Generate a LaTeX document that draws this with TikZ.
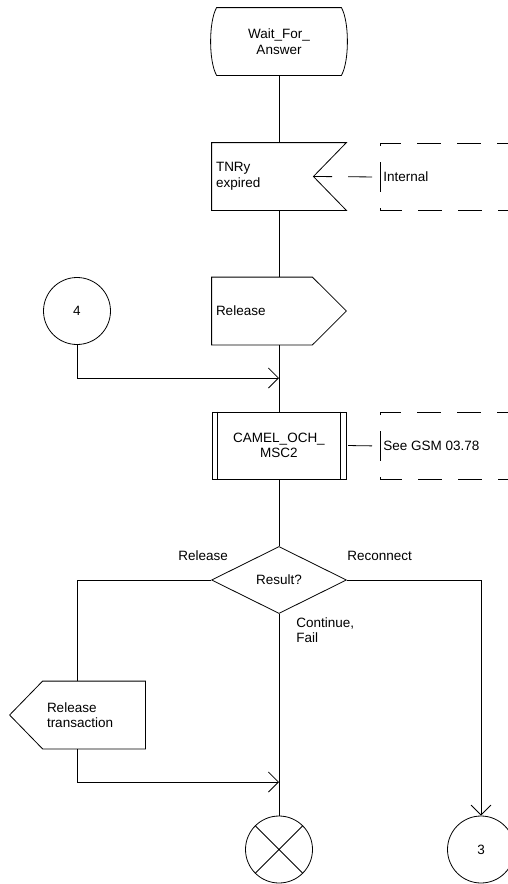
\documentclass[tikz,border=0pt]{standalone}
\usepackage{fontspec}
\setmainfont{Liberation Sans}
\usetikzlibrary{arrows.meta, shapes.geometric}

\begin{document}
\begin{tikzpicture}[x=1pt, y=-1pt, line width=0.8pt,
    every node/.style={font=\fontsize{13.5}{15.5}\selectfont},
    flow/.style={-{Straight Barb[length=10pt,width=20pt]}},
    sdlbox/.style={minimum width=134pt, minimum height=67pt, inner sep=4pt},
    signalbox/.style={sdlbox, text width=126pt, align=left},
    startstate/.style={sdlbox, align=center},
    procbox/.style={sdlbox, draw, rectangle, align=center},
    decision/.style={draw, diamond, aspect=2, minimum width=135pt, minimum height=67pt, inner sep=0pt},
    joint/.style={draw, circle, minimum size=67pt, inner sep=0pt},
    remark/.style={anchor=west, inner xsep=3pt},
    remarkline/.style={dash pattern=on 24pt off 16pt, dash phase=9pt},
    branch/.style={inner sep=0pt, align=left}]
					\useasboundingbox (0,0) rectangle (508,884);
					% states and signals
					\node[startstate] (wait) at (279,41.5) {Wait\_For\_\\Answer};
					\draw ([xshift=5pt]wait.north west) -- ([xshift=-5pt]wait.north east)
					      .. controls ([xshift=3pt,yshift=-14pt]wait.north east) and ([xshift=3pt,yshift=14pt]wait.south east) .. ([xshift=-5pt]wait.south east)
					      -- ([xshift=5pt]wait.south west)
					      .. controls ([xshift=-3pt,yshift=14pt]wait.south west) and ([xshift=-3pt,yshift=-14pt]wait.north west) .. cycle;
					\node[signalbox] (tnr) at (279,176.5) {TNRy\\expired};
					\draw (tnr.north west) -- (tnr.north east) -- ([xshift=-33pt]tnr.east) coordinate (tnrtip) -- (tnr.south east) -- (tnr.south west) -- cycle;
					\node[signalbox] (rel) at (279,311) {Release};
					\draw (rel.north west) -- ([xshift=-34pt]rel.north east) -- (rel.east) -- ([xshift=-34pt]rel.south east) -- (rel.south west) -- cycle;
					\node[procbox] (camel) at (279,445.5) {CAMEL\_OCH\_\\MSC2};
					\draw ([xshift=6pt]camel.north west) -- ([xshift=6pt]camel.south west)
					      ([xshift=-6pt]camel.north east) -- ([xshift=-6pt]camel.south east);
					\node[decision] (res) at (279,580) {Result?};
					\node[signalbox, minimum width=102pt, text width=94pt] (reltr) at (94,715) {Release\\transaction};
					\draw (reltr.south west) -- ([xshift=-33pt]reltr.west) -- (reltr.north west) -- (reltr.north east) -- (reltr.south east) -- cycle;
					% connectors
					\node[joint] (c4) at (77,311) {4};
					\node[joint] (stop) at (279,849.5) {};
					\draw (stop.north west) -- (stop.south east) (stop.north east) -- (stop.south west);
					\node[joint] (c3) at (481,849.5) {3};
					% comments
					\node[remark] (cmtint) at (380,177) {Internal};
					\draw[remarkline] (cmtint.west) |- ++(140,-34);
					\draw[remarkline] (cmtint.west) |- ++(140,33);
					\draw[remarkline, dash phase=32pt] (cmtint.west) -- (tnrtip);
					\node[remark] (cmtgsm) at (380,446) {See GSM 03.78};
					\draw[remarkline] (cmtgsm.west) |- ++(140,-34);
					\draw[remarkline] (cmtgsm.west) |- ++(140,33);
					\draw[remarkline, dash phase=32pt] (cmtgsm.west) -- (camel.east);
					% flow lines
					\draw (wait) -- (tnr);
					\draw (tnr) -- (rel);
					\draw (rel) -- (camel);
					\draw (camel) -- (res);
					\draw (res) -- (stop);
					\coordinate (j4) at (279,378);
					\coordinate (jtr) at (279,782);
					\draw[flow] (c4) |- (j4);
					\draw (res.west) -| ([xshift=-17pt]reltr.north);
					\draw[flow] ([xshift=-17pt]reltr.south) |- (jtr);
					\draw[flow] (res.east) -| (c3);
					% branch labels
					\node[branch, anchor=west] (lblrel) at (178,556) {Release};
					\node[branch, anchor=west] (lblrec) at (347,556) {Reconnect};
					\node[branch, anchor=north west] (lblcon) at (296,617) {Continue,\\Fail};
				\end{tikzpicture}
\end{document}
